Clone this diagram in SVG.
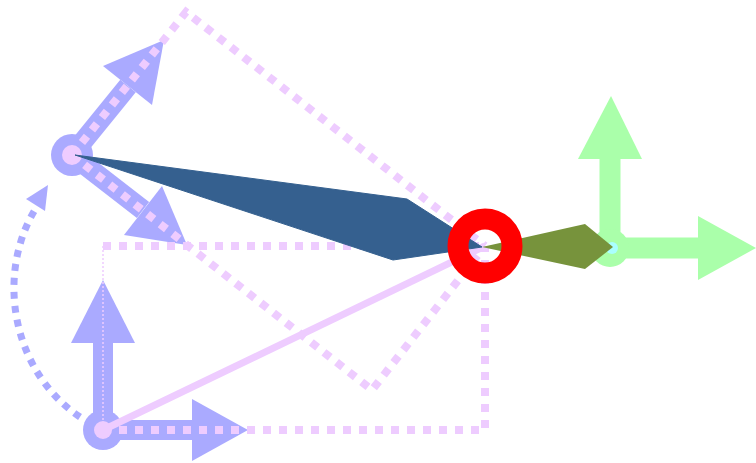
<svg xmlns="http://www.w3.org/2000/svg" width="756" height="463" viewBox="0 0 756 463">
<style>
.bv{fill:#aaaaff}
.bvs{stroke:#aaaaff;stroke-width:20;fill:none}
.gr{fill:#aaffaa}
.grs{stroke:#aaffaa;stroke-width:21;fill:none}
.pd{stroke:#eeccff;stroke-width:8;stroke-dasharray:8 8;fill:none}
.pk{fill:#eeccff}
</style>
<rect width="756" height="463" fill="#ffffff"/>
<g id="connectors">
<path d="M80,417 C10,370 -5,270 38,205" stroke="#aaaaff" stroke-width="7" stroke-dasharray="7 7" fill="none"/>
<polygon class="bv" points="26,199 48,185 45,211"/>
</g>
<g id="nodeA">
<line class="bvs" x1="72" y1="155" x2="128" y2="86"/>
<polygon class="bv" points="164,40 103,66 152,105"/>
<line class="bvs" x1="72" y1="155" x2="143" y2="210"/>
<polygon class="bv" points="187,245 162,186 124,235"/>
<circle class="bv" cx="72" cy="155" r="21"/>
</g>
<g id="nodeB">
<line class="bvs" x1="103" y1="430" x2="103" y2="343"/>
<polygon class="bv" points="103,280 71,343 135,343"/>
<line class="bvs" x1="103" y1="430" x2="192" y2="430"/>
<polygon class="bv" points="248,430 192,399 192,461"/>
<circle class="bv" cx="103" cy="430" r="20"/>
</g>
<g id="nodeD">
<line class="grs" x1="610" y1="248" x2="610" y2="159"/>
<polygon class="gr" points="611,96 578,159 642,159"/>
<line class="grs" x1="610" y1="248" x2="698" y2="248"/>
<polygon class="gr" points="756,248 698,216 698,280"/>
<circle class="gr" cx="610" cy="248" r="19"/>
<circle cx="612" cy="248" r="6" fill="#aaffff"/>
</g>
<g id="guides">
<polyline class="pd" points="72,155 186,12 485,246"/>
<polyline class="pd" points="72,155 372,390 485,246"/>
<polyline class="pd" points="103,246 485,246"/>
<polyline class="pd" points="103,430 485,430 485,246"/>
<line x1="103" y1="246" x2="103" y2="430" stroke="#eeccff" stroke-width="1.5" stroke-dasharray="2 2"/>
<line x1="103" y1="430" x2="485" y2="246" stroke="#eeccff" stroke-width="7"/>
<circle class="pk" cx="72" cy="155" r="10"/>
<circle class="pk" cx="103" cy="430" r="9"/>
</g>
<g id="handBlue">
<polygon points="75,155 407,199 482,247 393,260" fill="#35608f" stroke="#35608f" stroke-width="1" stroke-linejoin="round"/>
</g>
<g id="handOlive">
<polygon points="482,247 585,224 613,247 585,269" fill="#77933c"/>
</g>
<g id="nodeC">
<circle cx="485" cy="246" r="27" fill="none" stroke="#ff0000" stroke-width="21"/>
</g>
</svg>
